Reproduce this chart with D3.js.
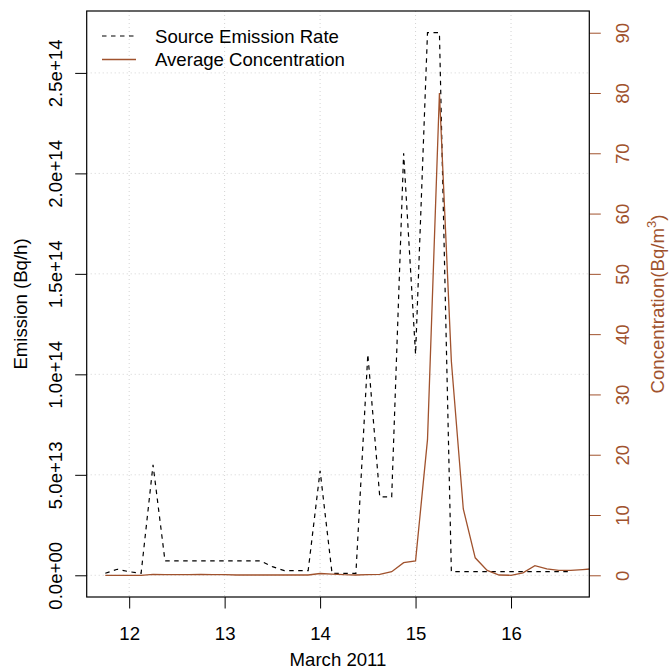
<!DOCTYPE html>
<html><head><meta charset="utf-8">
<script src="https://cdn.jsdelivr.net/npm/d3@7"></script>
<style>body{margin:0;background:#fff} text{font-family:"Liberation Sans",Arial,Helvetica,sans-serif}</style>
</head><body>
<svg id="c" width="670" height="669"></svg>
<script>
// Time (day of March 2011), 3-hour steps
const time = [11.75, 11.875, 12, 12.125, 12.25, 12.375, 12.5, 12.625, 12.75, 12.875,
  13, 13.125, 13.25, 13.375, 13.5, 13.625, 13.75, 13.875, 14, 14.125,
  14.25, 14.375, 14.5, 14.625, 14.75, 14.875, 15, 15.125, 15.25, 15.375,
  15.5, 15.625, 15.75, 15.875, 16, 16.125, 16.25, 16.375, 16.5, 16.625,
  16.75, 16.875];
// Source emission rate (Bq/h)
const emission = [0.1e13, 0.3e13, 0.18e13, 0.1e13, 5.5e13, 0.72e13,
  0.72e13, 0.72e13, 0.72e13, 0.72e13, 0.72e13, 0.72e13, 0.72e13, 0.72e13,
  0.43e13, 0.23e13, 0.23e13, 0.23e13,
  5.2e13, 0.1e13, 0.1e13, 0.1e13,
  11e13, 3.9e13, 3.9e13, 21e13, 11e13, 27e13, 27e13,
  0.18e13, 0.18e13, 0.18e13, 0.18e13, 0.18e13, 0.18e13, 0.18e13, 0.18e13, 0.18e13, 0.18e13, 0.18e13];
// Average concentration (Bq/m3)
const concentration = [0, 0, 0, 0, 0.15, 0.1, 0.1, 0.1, 0.15, 0.1,
  0.1, 0.05, 0.05, 0.05, 0.05, 0.05, 0.05, 0.05, 0.3, 0.2,
  0.1, 0.05, 0.1, 0.15, 0.6, 2.1, 2.4, 22.5, 80, 35.5,
  11, 2.9, 0.8, 0.05, 0, 0.4, 1.6, 1.05, 0.8, 0.8,
  0.95, 1.1];
const xTicks = [12, 13, 14, 15, 16];
const leftTicks = [0, 5e13, 1e14, 1.5e14, 2e14, 2.5e14];
const leftTickLabels = ["0.0e+00", "5.0e+13", "1.0e+14", "1.5e+14", "2.0e+14", "2.5e+14"];
const rightTicks = [0, 10, 20, 30, 40, 50, 60, 70, 80, 90];
const legendLabels = ["Source Emission Rate", "Average Concentration"];

const brown = "#A0522D";
const L = 86.7, R = 589.3, T = 11, B = 597;
const fs = 18.6;
const ff = '"Liberation Sans",Arial,sans-serif';
const svg = d3.select("#c");

const xr = [time[0], time[emission.length - 1]];
const xpad = (xr[1] - xr[0]) * 0.04;
const x = d3.scaleLinear().domain([xr[0] - xpad, xr[1] + xpad]).range([L, R]);
const emax = d3.max(emission);
const y1 = d3.scaleLinear().domain([-0.04 * emax, emax * 1.04]).range([B, T]);
const y2 = d3.scaleLinear().domain([-0.04 * 90, 90 * 1.04]).range([B, T]);

svg.append("clipPath").attr("id", "clip").append("rect")
  .attr("x", L).attr("y", T).attr("width", R - L).attr("height", B - T);

// grid
const g = svg.append("g").attr("stroke", "#D3D3D3").attr("stroke-dasharray", "1,3").attr("stroke-width", 1);
xTicks.forEach(t => g.append("line").attr("x1", x(t)).attr("x2", x(t)).attr("y1", T).attr("y2", B));
leftTicks.forEach(t => g.append("line").attr("x1", L).attr("x2", R).attr("y1", y1(t)).attr("y2", y1(t)));

// lines
const plot = svg.append("g").attr("clip-path", "url(#clip)");
plot.append("path")
  .datum(emission.map((v, i) => [time[i], v]))
  .attr("fill", "none").attr("stroke", "#000").attr("stroke-width", 1.2)
  .attr("stroke-dasharray", "4.5,4.5")
  .attr("d", d3.line().x(d => x(d[0])).y(d => y1(d[1])));
plot.append("path")
  .datum(concentration.map((v, i) => [time[i], v]))
  .attr("fill", "none").attr("stroke", brown).attr("stroke-width", 1.3)
  .attr("d", d3.line().x(d => x(d[0])).y(d => y2(d[1])));

// bottom axis
const ax = svg.append("g").attr("transform", `translate(0,${B})`)
  .call(d3.axisBottom(x).tickValues(xTicks).tickSize(11.5).tickFormat(d3.format("d")));
ax.select(".domain").remove();
ax.selectAll(".tick line").attr("stroke", "#000");
ax.selectAll(".tick text").attr("font-size", fs).attr("fill", "#000").attr("y", 42.5).attr("dy", 0)
  .style("font-family", ff);

// left axis
const ay = svg.append("g").attr("transform", `translate(${L},0)`)
  .call(d3.axisLeft(y1).tickValues(leftTicks).tickSize(11.5).tickFormat((d, i) => leftTickLabels[i]));
ay.select(".domain").remove();
ay.selectAll(".tick line").attr("stroke", "#000");
ay.selectAll(".tick text").attr("font-size", fs).attr("fill", "#000")
  .attr("text-anchor", "middle").attr("x", 0).attr("dy", 0)
  .attr("transform", "translate(-25,0) rotate(-90)")
  .style("font-family", ff);

// right axis
const ar = svg.append("g").attr("transform", `translate(${R},0)`)
  .call(d3.axisRight(y2).tickValues(rightTicks).tickSize(11.5));
ar.select(".domain").remove();
ar.selectAll(".tick line").attr("stroke", brown);
ar.selectAll(".tick text").attr("font-size", fs).attr("fill", brown)
  .attr("text-anchor", "middle").attr("x", 0).attr("dy", 0)
  .attr("transform", "translate(39.5,0) rotate(-90)")
  .style("font-family", ff);

// box
svg.append("rect").attr("x", L).attr("y", T).attr("width", R - L).attr("height", B - T)
  .attr("fill", "none").attr("stroke", "#000").attr("stroke-width", 1.2);

// titles
svg.append("text").attr("x", (L + R) / 2).attr("y", 665.5).attr("text-anchor", "middle")
  .attr("font-size", fs).text("March 2011");
svg.append("text").attr("transform", `translate(27,${(T + B) / 2}) rotate(-90)`)
  .attr("text-anchor", "middle").attr("font-size", fs).text("Emission (Bq/h)");
const rt = svg.append("text").attr("transform", `translate(664,${(T + B) / 2}) rotate(-90)`)
  .attr("text-anchor", "middle").attr("font-size", fs).attr("fill", brown);
rt.append("tspan").text("Concentration(Bq/m");
rt.append("tspan").attr("font-size", fs * 0.7).attr("dy", -8).text("3");
rt.append("tspan").attr("dy", 8).text(")");

// legend
const leg = svg.append("g");
legendLabels.forEach((lab, i) => {
  const yy = 36 + i * 23.5;
  leg.append("line").attr("x1", 102).attr("x2", 136).attr("y1", yy).attr("y2", yy)
    .attr("stroke", i === 0 ? "#000" : brown).attr("stroke-width", i === 0 ? 1.2 : 1.3)
    .attr("stroke-dasharray", i === 0 ? "4.5,4.5" : null);
  leg.append("text").attr("x", 155).attr("y", yy + 6.8).attr("font-size", fs).text(lab);
});
</script>
</body></html>
